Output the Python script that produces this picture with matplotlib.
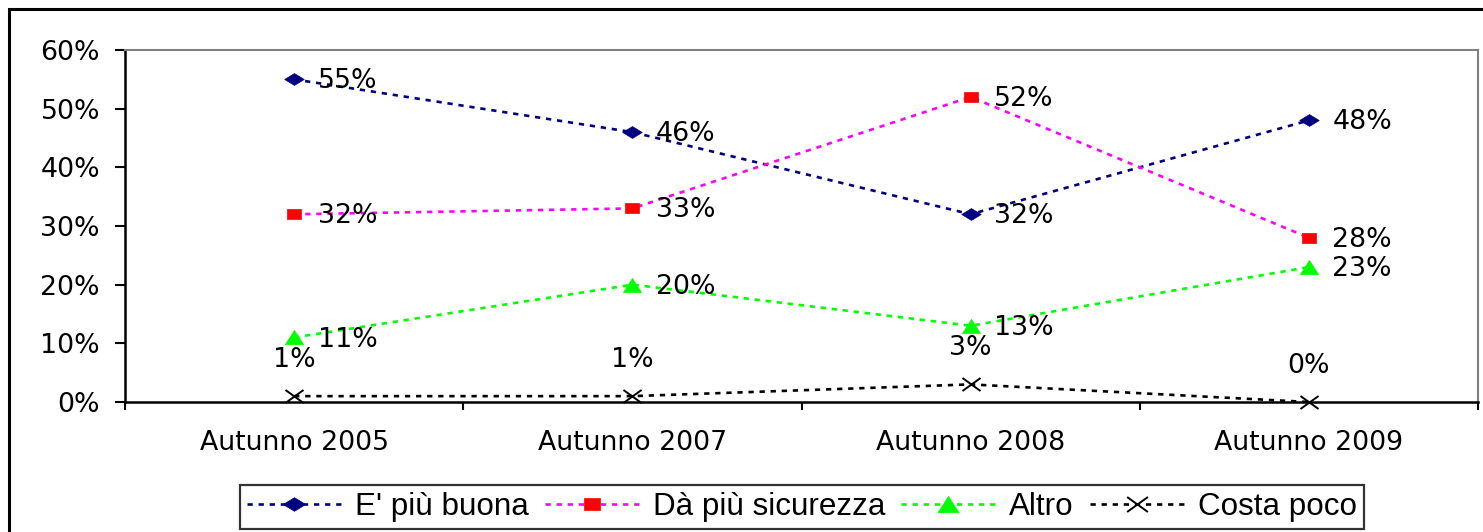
import matplotlib
matplotlib.use("Agg")
import matplotlib.pyplot as plt
from matplotlib.patches import Rectangle
from matplotlib.path import Path

plt.rcParams['font.family'] = ['DejaVu Sans']

categories = ["Autunno 2005", "Autunno 2007", "Autunno 2008", "Autunno 2009"]
piu_buona = [55, 46, 32, 48]
piu_sicurezza = [32, 33, 52, 28]
altro = [11, 20, 13, 23]
costa_poco = [1, 1, 3, 0]
y_ticks = [0, 10, 20, 30, 40, 50, 60]

W, H = 1483, 532
fig = plt.figure(figsize=(W / 100, H / 100), dpi=100)
ax = fig.add_axes([125 / W, 1 - 402 / H, 1353 / W, 352 / H])

# outer frame around the whole chart
fig.patches.append(Rectangle((9 / W, -0.05), 1.2, 1 - 9 / H + 0.05,
                             transform=fig.transFigure, fill=False,
                             edgecolor='black', linewidth=2.2))

# slightly wide marker shapes
diamond = [(-1, 0), (0, 0.61), (1, 0), (0, -0.61), (-1, 0)]
square = [(-1, -0.75), (1, -0.75), (1, 0.75), (-1, 0.75), (-1, -0.75)]
triangle = [(-1, -0.78), (1, -0.78), (0, 0.78), (-1, -0.78)]
cross = Path([(-1, -0.72), (1, 0.72), (-1, 0.72), (1, -0.72)],
             [Path.MOVETO, Path.LINETO, Path.MOVETO, Path.LINETO])

x = list(range(len(categories)))
fs = 19.3
leg_fs = 22.6

series = [
    ("E' più buona", piu_buona, '#000080', '#000080', diamond, 14, 'right'),
    ("Dà più sicurezza", piu_sicurezza, '#FF00FF', '#FF0000', square, 10.5, 'right'),
    ("Altro", altro, '#00FF00', '#00FF00', triangle, 13, 'right'),
    ("Costa poco", costa_poco, '#000000', '#000000', cross, 13, 'above'),
]

for name, vals, col, mcol, mk, ms, pos in series:
    ax.plot(x, vals, linestyle=(0, (2.0, 2.2)), linewidth=1.9, color=col,
            marker=mk, markersize=ms, markerfacecolor=mcol, markeredgecolor=mcol,
            markeredgewidth=1.4 if name == "Costa poco" else 0.5, label=name,
            clip_on=False, zorder=3)
    for xi, v in zip(x, vals):
        if pos == 'right':
            ax.annotate(f"{v}%", (xi, v), xytext=(17, -1.5),
                        textcoords='offset points', ha='left', va='center',
                        fontsize=fs, color='black', zorder=4)
        else:
            ax.annotate(f"{v}%", (xi, v), xytext=(0, 26),
                        textcoords='offset points', ha='center', va='center',
                        fontsize=fs, color='black', zorder=4)

ax.set_xlim(-0.5, 3.5)
ax.set_ylim(0, 60)
ax.set_yticks(y_ticks)
ax.set_yticklabels([f"{t}%" for t in y_ticks], fontsize=fs)
ax.set_xticks(x)
ax.set_xticklabels(categories, fontsize=fs)
ax.set_xticks([-0.5, 0.5, 1.5, 2.5, 3.5], minor=True)
ax.tick_params(axis='x', which='major', length=0, pad=20)
ax.tick_params(axis='x', which='minor', length=6, width=1.5, direction='out')
ax.tick_params(axis='y', length=7, width=1.5, direction='out', pad=11)

for side in ('left', 'bottom'):
    ax.spines[side].set_color('black')
    ax.spines[side].set_linewidth(1.8)
for side in ('top', 'right'):
    ax.spines[side].set_color('#808080')
    ax.spines[side].set_linewidth(1.5)

leg = fig.legend(loc='center', bbox_to_anchor=((234 + 1370) / 2 / W, 1 - 507 / H),
                 ncol=4, frameon=True, fancybox=False,
                 prop={'family': ['Liberation Sans', 'DejaVu Sans'], 'size': leg_fs},
                 handlelength=3.0, handletextpad=0.45, columnspacing=0.5,
                 numpoints=1, borderpad=0.22, borderaxespad=0, markerscale=1.15)
leg.get_frame().set_edgecolor('black')
leg.get_frame().set_linewidth(1.6)
leg.get_frame().set_boxstyle('square', pad=0)

fig.savefig("out.png", dpi=100, facecolor='white')
